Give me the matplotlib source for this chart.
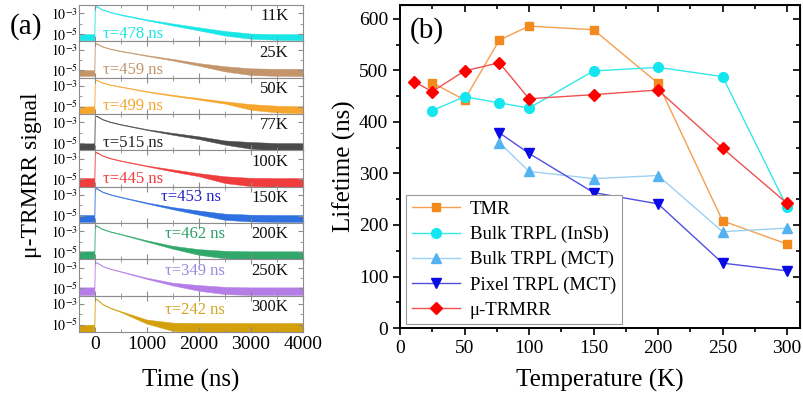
import numpy as np
import matplotlib
matplotlib.use('Agg')
from matplotlib import pyplot as plt
from matplotlib.ticker import MultipleLocator, NullFormatter

plt.rcParams['font.family'] = ['Liberation Serif', 'DejaVu Serif']
plt.rcParams['mathtext.fontset'] = 'stix'

# ---- panel (a): decay traces as log10 envelopes ----
temps_a = ['11K', '25K', '50K', '77K', '100K', '150K', '200K', '250K', '300K']
taus = [478, 459, 499, 515, 445, 453, 462, 349, 242]
t_knots = [-300, -5, 0, 40, 150, 300, 500, 1000, 1500, 2000, 2500, 3000, 3500, 4000]

# upper edge of each trace (log10 signal)
trace_hi = [
    [-5.00, -5.00, -2.27, -2.30, -2.62, -2.86, -3.09, -3.58, -3.98, -4.35, -4.70, -4.95, -5.00, -5.00],
    [-4.97, -4.97, -2.37, -2.39, -2.67, -2.89, -3.10, -3.53, -3.90, -4.30, -4.60, -4.80, -4.85, -4.85],
    [-4.97, -4.97, -2.37, -2.39, -2.65, -2.85, -3.04, -3.49, -3.85, -4.17, -4.48, -4.75, -4.90, -4.95],
    [-5.03, -5.03, -2.34, -2.36, -2.68, -2.93, -3.17, -3.66, -4.02, -4.35, -4.75, -4.90, -5.00, -5.00],
    [-4.87, -4.87, -2.34, -2.36, -2.68, -2.93, -3.17, -3.66, -4.04, -4.40, -4.70, -4.85, -4.87, -4.87],
    [-4.93, -4.93, -2.31, -2.33, -2.67, -2.92, -3.17, -3.72, -4.17, -4.50, -4.80, -4.90, -4.93, -4.93],
    [-4.93, -4.93, -2.41, -2.43, -2.75, -3.00, -3.24, -3.87, -4.40, -4.72, -4.88, -4.93, -4.93, -4.93],
    [-4.90, -4.90, -2.45, -2.47, -2.82, -3.08, -3.34, -3.97, -4.45, -4.68, -4.85, -4.90, -4.90, -4.90],
    [-5.00, -5.00, -2.48, -2.50, -2.98, -3.35, -3.69, -4.50, -4.80, -4.83, -4.83, -4.83, -4.83, -4.83],
]
# lower edge of each trace (log10 signal)
trace_lo = [
    [-5.60, -5.60, -2.35, -2.37, -2.68, -2.92, -3.17, -3.68, -4.18, -4.65, -5.15, -5.45, -5.55, -5.60],
    [-5.53, -5.53, -2.45, -2.46, -2.73, -2.95, -3.16, -3.61, -4.05, -4.55, -5.10, -5.45, -5.53, -5.55],
    [-5.63, -5.63, -2.45, -2.46, -2.71, -2.91, -3.10, -3.57, -3.96, -4.32, -4.70, -5.30, -5.55, -5.63],
    [-5.70, -5.70, -2.42, -2.43, -2.74, -2.99, -3.23, -3.74, -4.20, -4.62, -5.15, -5.55, -5.70, -5.70],
    [-5.70, -5.70, -2.42, -2.43, -2.74, -2.99, -3.23, -3.74, -4.24, -4.70, -5.35, -5.65, -5.70, -5.70],
    [-5.60, -5.60, -2.39, -2.40, -2.73, -2.98, -3.23, -3.82, -4.38, -4.90, -5.40, -5.55, -5.60, -5.60],
    [-5.67, -5.67, -2.49, -2.50, -2.81, -3.06, -3.30, -3.99, -4.68, -5.27, -5.60, -5.67, -5.67, -5.67],
    [-5.63, -5.63, -2.53, -2.54, -2.88, -3.14, -3.40, -4.09, -4.72, -5.23, -5.55, -5.63, -5.63, -5.63],
    [-5.67, -5.67, -2.56, -2.57, -3.04, -3.41, -3.78, -4.90, -5.60, -5.73, -5.73, -5.73, -5.73, -5.73],
]
trace_colors = ['#19e6e6', '#c4956a', '#f6a62c', '#4a4a4a', '#f03c3c',
                '#2f6fe0', '#2fa86a', '#b47de8', '#d4a00c']
tau_colors = ['#19e6e6', '#c4956a', '#f6a62c', '#222222', '#f03c3c',
              '#2222cc', '#2e9e6a', '#9a8adc', '#d4a520']
tau_pos = [(0.105, 0.21)] * 5 + [(0.367, 0.72), (0.385, 0.69), (0.385, 0.68), (0.385, 0.61)]

# ---- panel (b): lifetime vs temperature ----
T_tmr = [25, 50, 77, 100, 150, 200, 250, 300]
tmr = [476, 443, 559, 586, 579, 475, 208, 163]
T_insb = [25, 50, 77, 100, 150, 200, 250, 300]
insb = [422, 449, 437, 427, 499, 506, 488, 235]
T_mct = [77, 100, 150, 200, 250, 300]
mct_bulk = [360, 304, 290, 296, 187, 194]
T_pix = [77, 100, 150, 200, 250, 300]
mct_pixel = [379, 339, 263, 241, 126, 111]
T_trmrr = [11, 25, 50, 77, 100, 150, 200, 250, 300]
trmrr = taus

fig = plt.figure(figsize=(8.04, 4.03), dpi=100)

gs = fig.add_gridspec(9, 1, left=0.0983, right=0.3769, bottom=0.1762, top=0.9876, hspace=0)
frame = '#8c8c8c'
for i in range(9):
    ax = fig.add_subplot(gs[i])
    hi = 10 ** np.array(trace_hi[i])
    lo = 10 ** np.array(trace_lo[i])
    ax.fill_between(t_knots, lo, hi, color=trace_colors[i], lw=0.3, edgecolor=trace_colors[i])
    ax.set_yscale('log')
    ax.set_ylim(10 ** -5.7, 10 ** -2.2)
    ax.set_xlim(-300, 4000)
    ax.set_yticks([1e-5, 1e-3])
    ax.set_yticklabels([r'$10^{-5}$', r'$10^{-3}$'], fontsize=10)
    ax.set_yticks([1e-4], minor=True)
    ax.yaxis.set_minor_formatter(NullFormatter())
    ax.xaxis.set_major_locator(MultipleLocator(1000))
    ax.xaxis.set_minor_locator(MultipleLocator(500))
    ax.tick_params(which='both', direction='in', top=True, right=True, color=frame, pad=1)
    ax.tick_params(which='major', length=3.5)
    ax.tick_params(which='minor', length=2)
    for s in ax.spines.values():
        s.set_color(frame)
        s.set_linewidth(0.8)
    if i < 8:
        ax.set_xticklabels([])
    else:
        ax.tick_params(axis='x', labelsize=14, pad=3)
    ax.text(tau_pos[i][0], tau_pos[i][1], u'\u03c4=%d ns' % taus[i], transform=ax.transAxes,
            color=tau_colors[i], fontsize=12, va='center', ha='left')
    ax.text(0.935, 0.69, temps_a[i], transform=ax.transAxes, fontsize=12,
            va='center', ha='right', color='#111111')

fig.text(0.012, 0.933, '(a)', fontsize=21, va='center', ha='left')
fig.text(0.039, 0.565, u'\u03bc-TRMRR signal', fontsize=17, rotation=90, va='center', ha='center')
fig.text(0.237, 0.055, 'Time (ns)', fontsize=18, va='center', ha='center')

# right panel
axb = fig.add_axes([0.4975, 0.186, 0.4975, 0.8016])
axb.plot(T_tmr, tmr, color='#f5a050', lw=1, marker='s', ms=6, mfc='#f28a1e', mec='#f28a1e', label='TMR')
axb.plot(T_insb, insb, color='#33e8e8', lw=1, marker='o', ms=7, mfc='#14e6ef', mec='#14e6ef',
         label='Bulk TRPL (InSb)')
axb.plot(T_mct, mct_bulk, color='#9dd0f5', lw=1, marker='^', ms=7, mfc='#55b2f0', mec='#55b2f0',
         label='Bulk TRPL (MCT)')
axb.plot(T_pix, mct_pixel, color='#5050dd', lw=1, marker='v', ms=7, mfc='#0a0ae6', mec='#0a0ae6',
         label='Pixel TRPL (MCT)')
axb.plot(T_trmrr, trmrr, color='#f05050', lw=1, marker='D', ms=6, mfc='#ff0000', mec='#ff0000',
         label=u'\u03bc-TRMRR')
axb.set_xlim(0, 310)
axb.set_ylim(0, 627)
axb.xaxis.set_major_locator(MultipleLocator(50))
axb.xaxis.set_minor_locator(MultipleLocator(25))
axb.yaxis.set_major_locator(MultipleLocator(100))
axb.yaxis.set_minor_locator(MultipleLocator(50))
axb.tick_params(which='both', direction='out', labelsize=14, width=1.2)
axb.tick_params(which='major', length=5)
axb.tick_params(which='minor', length=3)
for s in axb.spines.values():
    s.set_linewidth(1.4)
top = axb.secondary_xaxis('top')
top.xaxis.set_major_locator(MultipleLocator(50))
top.xaxis.set_minor_locator(MultipleLocator(25))
top.tick_params(which='both', direction='in', labeltop=False, width=1.2)
top.tick_params(which='major', length=5)
top.tick_params(which='minor', length=3)
right = axb.secondary_yaxis('right')
right.yaxis.set_major_locator(MultipleLocator(100))
right.yaxis.set_minor_locator(MultipleLocator(50))
right.tick_params(which='both', direction='in', labelright=False, width=1.2)
right.tick_params(which='major', length=5)
right.tick_params(which='minor', length=3)

axb.set_xlabel('Temperature (K)', fontsize=18, labelpad=9)
axb.set_ylabel('Lifetime (ns)', fontsize=18, labelpad=2)
axb.text(0.025, 0.92, '(b)', transform=axb.transAxes, fontsize=21, va='center', ha='left')
leg = axb.legend(loc='lower left', bbox_to_anchor=(0.015, 0.012), borderaxespad=0, fontsize=13.5,
                 frameon=True, fancybox=False, edgecolor='#999999', framealpha=1,
                 handlelength=2.6, labelspacing=0.42, borderpad=0.3, handletextpad=0.5)
leg.get_frame().set_linewidth(0.8)

fig.savefig('out.png', dpi=100)
